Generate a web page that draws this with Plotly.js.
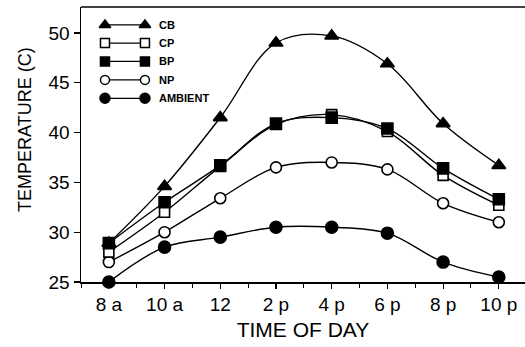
<!DOCTYPE html>
<html>
<head>
<meta charset="utf-8">
<script src="https://cdn.plot.ly/plotly-3.0.1.min.js"></script>
<style>html,body{margin:0;padding:0;background:#fff;}#chart{width:525px;height:347px;}</style>
</head>
<body>
<div id="chart"></div>
<script>
// Hours of day (24h clock)
const hours = [8, 10, 12, 14, 16, 18, 20, 22];
const tickLabels = ["8 a", "10 a", "12", "2 p", "4 p", "6 p", "8 p", "10 p"];
const seriesNames = ["CB", "CP", "BP", "NP", "AMBIENT"];
const cb      = [28.9, 34.6, 41.5, 49.0, 49.7, 46.9, 40.9, 36.7];
const cp      = [28.0, 32.0, 36.6, 40.8, 41.8, 40.1, 35.7, 32.7];
const bp      = [28.9, 33.0, 36.7, 40.9, 41.5, 40.4, 36.4, 33.3];
const np      = [27.0, 30.0, 33.4, 36.5, 37.0, 36.3, 32.9, 31.0];
const ambient = [25.0, 28.5, 29.5, 30.5, 30.5, 29.9, 27.0, 25.5];

const values = [cb, cp, bp, np, ambient];
const symbols = ["triangle-up", "square", "square", "circle", "circle"];
const fills = ["#000", "#fff", "#000", "#fff", "#000"];
const sizes = [12, 10, 11, 11, 12];
const legSizes = [10, 9, 9, 9, 10];

const traces = [];
const order = [3, 4, 1, 2, 0];
order.forEach(i => {
  traces.push({
    x: hours, y: values[i], type: "scatter", mode: "lines+markers",
    name: seriesNames[i],
    line: {color: "#000", width: 1.4, shape: "spline", smoothing: 1},
    marker: {symbol: symbols[i], size: sizes[i], color: fills[i],
             line: {color: "#000", width: 1.6}},
    hoverinfo: "skip", cliponaxis: false
  });
});

// Custom legend (marker — marker  label), positioned in plot-area fractions
const legX1 = 0.054, legX2 = 0.144, legTextX = 0.172;
const legY = [0.935, 0.869, 0.802, 0.735, 0.668];
const annotations = [];
seriesNames.forEach((n, i) => {
  traces.push({
    x: [legX1, legX2], y: [legY[i], legY[i]], xaxis: "x2", yaxis: "y2",
    type: "scatter", mode: "lines+markers",
    line: {color: "#000", width: 1.3},
    marker: {symbol: symbols[i], size: legSizes[i], color: fills[i],
             line: {color: "#000", width: 1.5}},
    hoverinfo: "skip", showlegend: false, cliponaxis: false
  });
  annotations.push({
    xref: "x2", yref: "y2", x: legTextX, y: legY[i], text: "<b>" + n + "</b>",
    showarrow: false, xanchor: "left", yanchor: "middle",
    font: {family: "Liberation Sans, Arial, sans-serif", size: 11, color: "#000"}
  });
});

// Y-axis title as rotated annotation
annotations.push({
  xref: "paper", yref: "paper", x: -0.126, y: 0.553, text: "TEMPERATURE (C)",
  textangle: -90, showarrow: false, xanchor: "center", yanchor: "middle",
  font: {family: "Liberation Sans, Arial, sans-serif", size: 18, color: "#000"}
});

const layout = {
  width: 525, height: 347,
  margin: {l: 81, r: 0, t: 7, b: 65},
  paper_bgcolor: "#fff", plot_bgcolor: "#fff",
  showlegend: false,
  font: {family: "Liberation Sans, Arial, sans-serif", color: "#000"},
  xaxis: {
    range: [7, 22.94], tickvals: hours, ticktext: tickLabels,
    ticks: "outside", ticklen: 5, tickwidth: 1.2, tickcolor: "#000",
    minor: {dtick: 1, tick0: 7, ticks: "outside", ticklen: 4, tickwidth: 1, tickcolor: "#000", showgrid: false},
    showline: true, linecolor: "#000", linewidth: 1.5, mirror: false,
    showgrid: false, zeroline: false,
    tickfont: {size: 19, color: "#000"},
    title: {text: "TIME OF DAY", font: {size: 21, color: "#000"}, standoff: 8}
  },
  yaxis: {
    range: [25, 52.6], tickvals: [25, 30, 35, 40, 45, 50],
    ticks: "outside", ticklen: 6, tickwidth: 1.2, tickcolor: "#000",
    showline: true, linecolor: "#000", linewidth: 1.5,
    showgrid: false, zeroline: false,
    tickfont: {size: 19, color: "#000"}
  },
  xaxis2: {overlaying: "x", range: [0, 1], visible: false, fixedrange: true},
  yaxis2: {overlaying: "y", range: [0, 1], visible: false, fixedrange: true},
  shapes: [
    {type: "line", xref: "paper", yref: "paper", x0: 0, x1: 1, y0: 1, y1: 1, line: {color: "#000", width: 1.5}}
  ],
  annotations: annotations
};

Plotly.newPlot("chart", traces, layout, {displayModeBar: false, staticPlot: true});
</script>
</body>
</html>
